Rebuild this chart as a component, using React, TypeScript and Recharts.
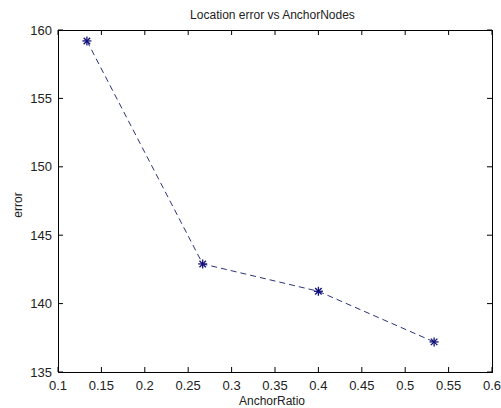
import { LineChart, Line, XAxis, YAxis, ReferenceArea, CartesianGrid } from "recharts";

const anchorRatio = [0.1333, 0.2667, 0.4, 0.5333];
const locationError = [159.2, 142.9, 140.9, 137.2];
const xTicks = [0.1, 0.15, 0.2, 0.25, 0.3, 0.35, 0.4, 0.45, 0.5, 0.55, 0.6];
const yTicks = [135, 140, 145, 150, 155, 160];

const data = anchorRatio.map((x, i) => ({ x, err: locationError[i] }));

const FONT = "'Liberation Sans', Arial, sans-serif";
const GAP = 11; // tickMargin: label anchor sits this far outside the axis line
const TICK = 5;

const BottomTick = (props: any) => {
  const { x, y, payload } = props;
  return (
    <text x={x} y={y + 7} textAnchor="middle" fontSize={13} fill="#222" fontFamily={FONT}>
      {payload.value}
    </text>
  );
};

const LeftTick = (props: any) => {
  const { x, y, payload } = props;
  return (
    <text x={x + 5} y={y + 4.5} textAnchor="end" fontSize={13} fill="#222" fontFamily={FONT}>
      {payload.value}
    </text>
  );
};

// grid lines are replaced by short inward ticks at both ends (matlab look)
const VTicks = (p: any) => {
  const top = Math.min(p.y1, p.y2);
  const bot = Math.max(p.y1, p.y2);
  return (
    <g stroke="#000" strokeWidth={1}>
      <line x1={p.x1} y1={top} x2={p.x1} y2={top + TICK} />
      <line x1={p.x1} y1={bot} x2={p.x1} y2={bot - TICK} />
    </g>
  );
};

const HTicks = (p: any) => {
  const l = Math.min(p.x1, p.x2);
  const r = Math.max(p.x1, p.x2);
  return (
    <g stroke="#000" strokeWidth={1}>
      <line x1={l} y1={p.y1} x2={l + TICK} y2={p.y1} />
      <line x1={r} y1={p.y1} x2={r - TICK} y2={p.y1} />
    </g>
  );
};

// matlab-style '*' marker
const Star = (props: any) => {
  const { cx, cy } = props;
  if (cx == null || cy == null) return null;
  const r = 4.5;
  const d = r * 0.72;
  return (
    <g stroke="#10107a" strokeWidth={1.3}>
      <line x1={cx - r} y1={cy} x2={cx + r} y2={cy} />
      <line x1={cx} y1={cy - r} x2={cx} y2={cy + r} />
      <line x1={cx - d} y1={cy - d} x2={cx + d} y2={cy + d} />
      <line x1={cx - d} y1={cy + d} x2={cx + d} y2={cy - d} />
    </g>
  );
};

const axisLine = { stroke: "#000", strokeWidth: 1, shapeRendering: "crispEdges" };

export default function App() {
  return (
    <div style={{ position: "absolute", left: 0, top: 0, width: 501, height: 408, background: "#fff", fontFamily: FONT }}>
      <div style={{ position: "absolute", top: 9, left: 0, width: 545, textAlign: "center", fontSize: 12, lineHeight: "12px", color: "#222" }}>
        Location error vs AnchorNodes
      </div>
      <div style={{ position: "absolute", top: 395, left: 0, width: 544, textAlign: "center", fontSize: 12, lineHeight: "12px", color: "#222" }}>
        AnchorRatio
      </div>
      <div
        style={{
          position: "absolute", left: 18, top: 205, fontSize: 12, lineHeight: "12px", color: "#222",
          transform: "translate(-50%, -50%) rotate(-90deg)", whiteSpace: "nowrap",
        }}
      >
        error
      </div>
      <LineChart width={501} height={408} data={data} margin={{ top: 30, right: 9, left: 8, bottom: 0 }}>
        <CartesianGrid vertical={<VTicks />} horizontal={<HTicks />} />
        <XAxis
          dataKey="x" type="number" domain={[0.1, 0.6]} ticks={xTicks} interval={0}
          height={36} axisLine={axisLine} tickLine={false} tickSize={0} tickMargin={GAP} tick={<BottomTick />}
        />
        <YAxis
          type="number" domain={[135, 160]} ticks={yTicks} interval={0}
          width={50} axisLine={axisLine} tickLine={false} tickSize={0} tickMargin={GAP} tick={<LeftTick />}
        />
        <ReferenceArea
          x1={0.1} x2={0.6} y1={135} y2={160} fill="none" fillOpacity={0}
          stroke="#000" strokeWidth={1} ifOverflow="visible" shapeRendering="crispEdges"
        />
        <Line
          dataKey="err" stroke="#2a3478" strokeWidth={1} strokeDasharray="6 4"
          dot={<Star />} activeDot={false} isAnimationActive={false}
        />
      </LineChart>
    </div>
  );
}
